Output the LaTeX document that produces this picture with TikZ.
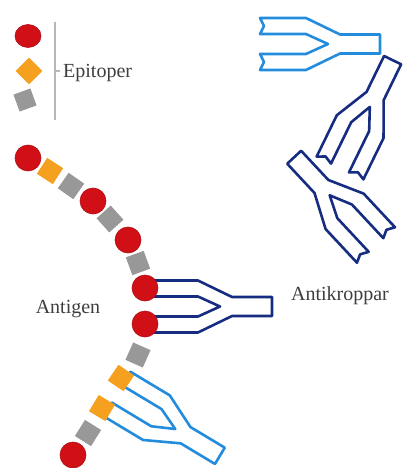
\documentclass[tikz,border=0pt]{standalone}
\usepackage{fontspec}
\setmainfont{Liberation Serif}
\usepackage{tikz}

\definecolor{abdark}{RGB}{22,44,128}
\definecolor{ablight}{RGB}{35,140,220}
\definecolor{epred}{RGB}{208,16,22}
\definecolor{eporange}{RGB}{245,160,30}
\definecolor{epgray}{RGB}{152,152,152}
\definecolor{txtgray}{RGB}{62,62,62}

\begin{document}
\begin{tikzpicture}[x=1pt, y=1pt]
\tikzset{
  pics/antibody/.style={code={
    \draw[fill=white] (0,26) -- (46,26) -- (80,9.5) -- (120,9.5) -- (120,-9.5) -- (80,-9.5)
      -- (46,-26) -- (0,-26) -- (#1,-18) -- (0,-10) -- (46,-10) -- (68,0) -- (46,10) -- (0,10)
      -- (#1,18) -- cycle;
  }},
  dark/.style={color=abdark, line width=2.6pt, line join=round},
  light/.style={color=ablight, line width=2.6pt, line join=round},
  redbead/.style={fill=epred, draw=epred!85!black, line width=0.6pt},
  sqbead/.style={rectangle, minimum size=19, inner sep=0pt},
  graybead/.style={sqbead, fill=epgray},
  orangebead/.style={sqbead, fill=eporange},
  lbl/.style={inner sep=0pt, text=txtgray, font=\fontsize{20}{24}\selectfont}
}
\useasboundingbox (0,0) rectangle (403,-468);

% legend
    \filldraw[redbead] (28,-36) ellipse (13 and 11.5);
    \node[orangebead, rotate=45] (lo) at (29,-71) {};
    \node[graybead, rotate=20, minimum size=18] (lg) at (25,-100) {};
    \draw[epgray!70, line width=2pt] (55,-22) -- (55,-120);
    \draw[epgray!70, line width=1.2pt] (55,-71) -- (60,-71);
    \node[lbl, anchor=base west] (epi) at (63,-78) {Epitoper};

% % % % % % % % % % % % % % % % % % %
% antibodies
    \pic[light] at (260,-44) {antibody=4};
    \pic[dark, rotate=64] at (340,-168) {antibody=4};
    \pic[dark, rotate=133] at (376,-245) {antibody=4};
    \pic[dark] at (152,-306.5) {antibody=0};
    \pic[light, rotate=-31] at (117,-394) {antibody=0};

% % % % % % % % % % % % % % % % % % %
% antigen chain
    \filldraw[redbead] (28,-158) circle (13);
    \node[orangebead, rotate=-33] (c2) at (50,-171) {};
    \node[graybead, rotate=-35] (c3) at (71,-186) {};
    \filldraw[redbead] (93,-201) circle (13);
    \node[graybead, rotate=-48] (c5) at (110,-219) {};
    \filldraw[redbead] (128,-240) circle (13);
    \node[graybead, rotate=-70] (c7) at (138,-263) {};
    \filldraw[redbead] (145,-288) circle (13);
    \filldraw[redbead] (145,-324) circle (13);
    \node[graybead, rotate=-24] (c10) at (138,-355) {};
    \node[orangebead, rotate=-34] (c11) at (121,-378) {};
    \node[orangebead, rotate=-31] (c12) at (102,-408) {};
    \node[graybead, rotate=-32] (c13) at (88,-433) {};
    \filldraw[redbead] (73,-455) circle (13);

    \node[lbl, anchor=base] (antigen) at (68,-313) {Antigen};
    \node[lbl, anchor=base] (antikr) at (340,-300) {Antikroppar};
\end{tikzpicture}
\end{document}
